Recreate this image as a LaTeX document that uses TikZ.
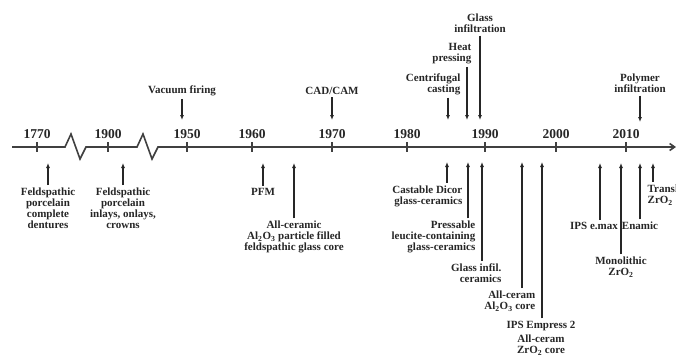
\documentclass[tikz,border=0pt]{standalone}
\usepackage{fontspec}
\setmainfont{Liberation Serif}
\usetikzlibrary{arrows.meta}
\begin{document}
\begin{tikzpicture}[x=1pt,y=-1pt,
	lbl/.style={font=\bfseries\fontsize{11}{10.9}\selectfont, text=black!85, inner sep=2.5pt},
	year/.style={font=\bfseries\fontsize{13.5}{13.5}\selectfont, text=black!85},
	evt/.style={-{Latex[length=5pt,width=4pt]}, line width=1.2pt, black!85},
	axis/.style={line width=1.6pt, black!75}]
	\useasboundingbox (0,0) rectangle (676,356);
	% time axis with the two breaks
	\draw[axis, -{Straight Barb[length=5pt,width=7pt]}] (12,147) -- (65,147) -- (71,134) -- (80,159) -- (86,147)
		-- (137,147) -- (143,134) -- (152,159) -- (158,147) -- (676,147);
	\foreach \yr/\xx in {1770/37, 1900/108, 1950/187, 1960/252, 1970/332, 1980/407, 1990/485, 2000/556, 2010/626} {
		\draw[axis, line width=1.2pt] (\xx,142) -- (\xx,152);
		\node[year] (y\yr) at (\xx,134) {\yr};
	}
	% above the axis
	\coordinate (vacT) at (182,120);
	\node[lbl] (vac) at (182,91) {Vacuum firing};
	\draw[evt] (vac.south -| vacT) -- (vacT);
	\coordinate (cadT) at (332,120);
	\node[lbl] (cad) at (332,91) {CAD/CAM};
	\draw[evt] (cad.south -| cadT) -- (cadT);
	\coordinate (cenT) at (448,120);
	\node[lbl, align=right, anchor=east] (cen) at (463,84.5) {Centrifugal\\casting};
	\draw[evt] (cen.south -| cenT) -- (cenT);
	\coordinate (hpT) at (467,120);
	\node[lbl, align=right, anchor=east] (hp) at (474,54) {Heat\\pressing};
	\draw[evt] (hp.south -| hpT) -- (hpT);
	\coordinate (ginT) at (480,120);
	\node[lbl, align=center] (gin) at (480,23.5) {Glass\\infiltration};
	\draw[evt] (gin.south -| ginT) -- (ginT);
	\coordinate (polT) at (640,122);
	\node[lbl, align=center] (pol) at (640,83.5) {Polymer\\infiltration};
	\draw[evt] (pol.south -| polT) -- (polT);
	% below the axis
	\coordinate (fpdT) at (48,163);
	\node[lbl, align=center] (fpd) at (48,208) {Feldspathic\\porcelain\\complete\\dentures};
	\draw[evt] (fpd.north -| fpdT) -- (fpdT);
	\coordinate (fpiT) at (123,163);
	\node[lbl, align=center] (fpi) at (123,208) {Feldspathic\\porcelain\\inlays, onlays,\\crowns};
	\draw[evt] (fpi.north -| fpiT) -- (fpiT);
	\coordinate (pfmT) at (263,163);
	\node[lbl] (pfm) at (263,192) {PFM};
	\draw[evt] (pfm.north -| pfmT) -- (pfmT);
	\coordinate (acgT) at (294,163);
	\node[lbl, align=center] (acg) at (294,237) {All-ceramic\\Al\textsubscript{2}O\textsubscript{3} particle filled\\feldspathic glass core};
	\draw[evt] (acg.north -| acgT) -- (acgT);
	\coordinate (dicT) at (447,162);
	\node[lbl, align=right, anchor=east] (dic) at (465,196) {Castable Dicor\\glass-ceramics};
	\draw[evt] (dic.north -| dicT) -- (dicT);
	\coordinate (preT) at (468,162);
	\node[lbl, align=right, anchor=east] (pre) at (478,237) {Pressable\\leucite-containing\\glass-ceramics};
	\draw[evt] (pre.north -| preT) -- (preT);
	\coordinate (gicT) at (482,162);
	\node[lbl, align=right, anchor=east] (gic) at (504,273) {Glass infil.\\ceramics};
	\draw[evt] (gic.north -| gicT) -- (gicT);
	\coordinate (alcT) at (522,162);
	\node[lbl, align=right, anchor=east] (alc) at (538,301) {All-ceram\\Al\textsubscript{2}O\textsubscript{3} core};
	\draw[evt] (alc.north -| alcT) -- (alcT);
	\coordinate (ipsT) at (542,162);
	\node[lbl] (ips) at (541,326) {IPS Empress 2};
	\node[lbl, align=center] (zrc) at (541,345) {All-ceram\\ZrO\textsubscript{2} core};
	\draw[evt] (ips.north -| ipsT) -- (ipsT);
	\coordinate (emxT) at (600,163);
	\node[lbl] (emx) at (594,226) {IPS e.max};
	\draw[evt] (emx.north -| emxT) -- (emxT);
	\coordinate (monT) at (621,163);
	\node[lbl, align=center] (mon) at (621,267) {Monolithic\\ZrO\textsubscript{2}};
	\draw[evt] (mon.north -| monT) -- (monT);
	\coordinate (enaT) at (640,163);
	\node[lbl] (ena) at (640,226) {Enamic};
	\draw[evt] (ena.north -| enaT) -- (enaT);
	\coordinate (traT) at (653,163);
	\node[lbl, align=left, anchor=west] (tra) at (645,195) {Translucent\\ZrO\textsubscript{2}};
	\draw[evt] (tra.north -| traT) -- (traT);
\end{tikzpicture}
\end{document}
